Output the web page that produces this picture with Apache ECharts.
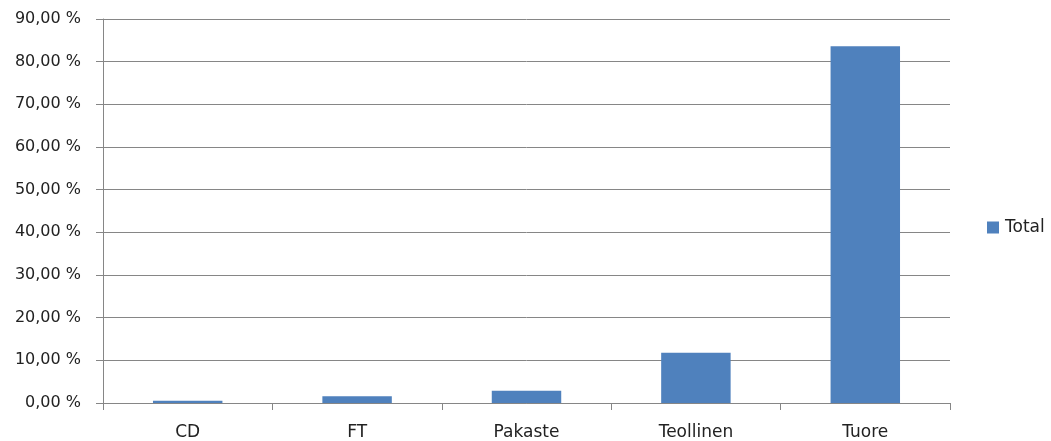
<!DOCTYPE html>
<html>
<head>
<meta charset="utf-8">
<script src="https://cdn.jsdelivr.net/npm/echarts@6/dist/echarts.min.js"></script>
<style>
  html, body { margin: 0; padding: 0; background: #fff; }
  #chart { width: 1051px; height: 441px; }
</style>
</head>
<body>
<div id="chart"></div>
<script>
// data (percent)
var categories = ['CD', 'FT', 'Pakaste', 'Teollinen', 'Tuore'];
var totalValues = [0.5, 1.6, 2.9, 11.8, 83.6];
var seriesName = 'Total';

function fmtPct(v) {
  return v.toFixed(2).replace('.', ',') + ' %';
}

var chart = echarts.init(document.getElementById('chart'));
var fontFam = 'DejaVu Sans';
chart.setOption({
  animation: false,
  textStyle: { fontFamily: fontFam },
  grid: { left: 103, right: 101, top: 19, bottom: 37 },
  legend: {
    left: 982,
    top: 214,
    orient: 'vertical',
    itemWidth: 12,
    itemHeight: 12,
    itemGap: 4,
    icon: 'rect',
    textStyle: { fontSize: 17, color: '#222', fontFamily: fontFam, padding: [0, 0, 0, 1] },
    data: [seriesName]
  },
  xAxis: {
    type: 'category',
    data: categories,
    axisLine: { lineStyle: { color: '#868686', width: 1 } },
    axisTick: { show: true, length: 7, lineStyle: { color: '#868686' } },
    axisLabel: { margin: 21, fontSize: 17, color: '#222', fontFamily: fontFam }
  },
  yAxis: {
    type: 'value',
    min: 0,
    max: 90,
    interval: 10,
    axisLine: { show: true, lineStyle: { color: '#868686', width: 1 } },
    axisTick: { show: true, length: 7, lineStyle: { color: '#868686' } },
    splitLine: { lineStyle: { color: '#868686', width: 1 } },
    axisLabel: { margin: 22, fontSize: 16, color: '#222', fontFamily: fontFam, formatter: fmtPct }
  },
  series: [{
    name: seriesName,
    type: 'bar',
    data: totalValues,
    barWidth: '41%',
    itemStyle: { color: '#4F81BD' }
  }]
});
</script>
</body>
</html>
